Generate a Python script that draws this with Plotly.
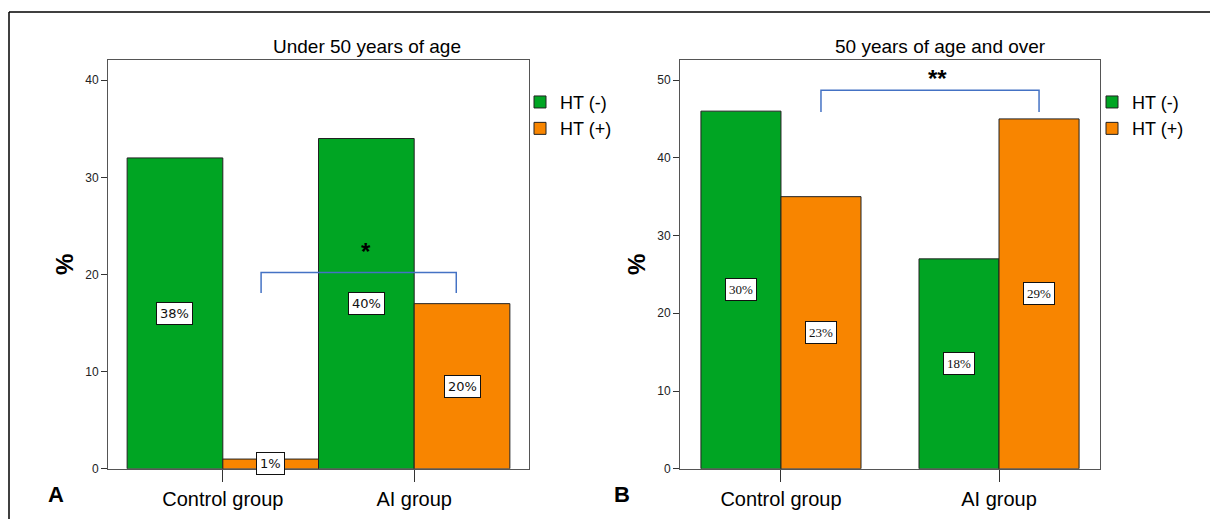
import plotly.graph_objects as go

# The page puts the figure 8px in from the top-left corner of the window,
# so the figure is 8px smaller and all pixel positions are shifted by 8.
OFF = 8
W, H = 1218 - OFF, 526 - OFF
VSCALE = 0.989  # measured vertical compression of the rendered page

categories = ["Control group", "AI group"]
series_names = ["HT (-)", "HT (+)"]

# Panel A: Under 50 years of age
a_ht_neg = [32, 34]
a_ht_pos = [1, 17]
a_lbl_neg = ["38%", "40%"]
a_lbl_pos = ["1%", "20%"]
a_yticks = [0, 10, 20, 30, 40]

# Panel B: 50 years of age and over
b_ht_neg = [46, 27]
b_ht_pos = [35, 45]
b_lbl_neg = ["30%", "18%"]
b_lbl_pos = ["23%", "29%"]
b_yticks = [0, 10, 20, 30, 40, 50]

# significance brackets: (x_start, x_end, y_top, y_drop, text, text_x, text_y)
a_bracket = (0.2, 1.22, 20.2, 18.1, "*", 0.75, 22.4)
b_bracket = (0.1835, 1.1835, 48.7, 45.9, "**", 0.72, 50.2)

GREEN = "#00A523"
ORANGE = "#F88500"
FONT = "Liberation Sans, Arial, sans-serif"


def px_x(p):
    return (p - OFF) / W


def px_y(p):
    p = 12 + (p - 12) / VSCALE
    return 1 - (p - OFF) / H


fig = go.Figure()

panels = [
    dict(xa="x", ya="y", neg=a_ht_neg, pos=a_ht_pos, lneg=a_lbl_neg, lpos=a_lbl_pos,
         w=0.5, legend="legend", br=a_bracket, lfont="DejaVu Sans, sans-serif", lsize=13),
    dict(xa="x2", ya="y2", neg=b_ht_neg, pos=b_ht_pos, lneg=b_lbl_neg, lpos=b_lbl_pos,
         w=0.367, legend="legend2", br=b_bracket, lfont="Liberation Serif, serif", lsize=13),
]

xs = list(range(len(categories)))
annotations = []
shapes = []
for p in panels:
    w = p["w"]
    for vals, name, color, off in [(p["neg"], series_names[0], GREEN, -w),
                                   (p["pos"], series_names[1], ORANGE, 0.0)]:
        fig.add_trace(go.Bar(
            x=xs, y=vals, name=name, width=w, offset=off,
            marker=dict(color=color, line=dict(color="#222222", width=1)),
            xaxis=p["xa"], yaxis=p["ya"], legend=p["legend"],
            hoverinfo="y+name",
        ))
    for vals, labels, off in [(p["neg"], p["lneg"], -w / 2), (p["pos"], p["lpos"], w / 2)]:
        for xi, v, t in zip(xs, vals, labels):
            annotations.append(dict(
                x=xi + off, y=v / 2, xref=p["xa"], yref=p["ya"], text=t,
                showarrow=False, bgcolor="white", bordercolor="#111111",
                borderwidth=1, borderpad=3,
                font=dict(family=p["lfont"], size=p["lsize"], color="#111111"),
            ))
    x0, x1, yt, yd, st, sx, sy = p["br"]
    shapes.append(dict(
        type="path", xref=p["xa"], yref=p["ya"],
        path=f"M {x0},{yd} L {x0},{yt} L {x1},{yt} L {x1},{yd}",
        line=dict(color="#4472C4", width=1.5),
    ))
    annotations.append(dict(
        x=sx, y=sy, xref=p["xa"], yref=p["ya"], text=f"<b>{st}</b>",
        showarrow=False, font=dict(family=FONT, size=24, color="black"),
    ))

# titles
annotations.append(dict(x=px_x(367), y=px_y(47), xref="paper", yref="paper",
                        xanchor="center", yanchor="middle",
                        text="Under 50 years of age", showarrow=False,
                        font=dict(family=FONT, size=19, color="black")))
annotations.append(dict(x=px_x(940), y=px_y(47), xref="paper", yref="paper",
                        xanchor="center", yanchor="middle",
                        text="50 years of age and over", showarrow=False,
                        font=dict(family=FONT, size=19, color="black")))
# panel letters
annotations.append(dict(x=px_x(56), y=px_y(496), xref="paper", yref="paper",
                        xanchor="center", yanchor="middle",
                        text="<b>A</b>", showarrow=False,
                        font=dict(family=FONT, size=22, color="black")))
annotations.append(dict(x=px_x(622), y=px_y(496), xref="paper", yref="paper",
                        xanchor="center", yanchor="middle",
                        text="<b>B</b>", showarrow=False,
                        font=dict(family=FONT, size=22, color="black")))

# outer border (left and top edges visible)
shapes.append(dict(type="line", xref="paper", yref="paper",
                   x0=px_x(9), x1=px_x(9), y0=0, y1=px_y(12),
                   line=dict(color="black", width=1.5)))
shapes.append(dict(type="line", xref="paper", yref="paper",
                   x0=px_x(9), x1=1, y0=px_y(12), y1=px_y(12),
                   line=dict(color="black", width=1.5)))

ydom = [px_y(470), px_y(60)]
common_x = dict(tickmode="array", tickvals=xs, ticktext=categories,
                ticks="outside", ticklen=12, tickcolor="#333333",
                showline=True, mirror=True, linecolor="#555555", linewidth=1,
                showgrid=False, zeroline=False,
                tickfont=dict(family=FONT, size=20, color="black"))
common_y = dict(ticks="outside", ticklen=6, tickcolor="#333333",
                showline=True, mirror=True, linecolor="#555555", linewidth=1,
                showgrid=False, zeroline=False,
                tickfont=dict(family=FONT, size=12, color="#222222"),
                title=dict(text="<b>%</b>", font=dict(family=FONT, size=24, color="black"),
                           standoff=4))

legend_common = dict(font=dict(family=FONT, size=18, color="black"),
                     bgcolor="rgba(0,0,0,0)", xanchor="left", yanchor="top",
                     itemclick=False, itemdoubleclick=False, tracegroupgap=0)

fig.update_layout(
    width=W, height=H,
    margin=dict(l=0, r=0, t=0, b=0),
    paper_bgcolor="white", plot_bgcolor="white",
    barmode="overlay",
    showlegend=True,
    xaxis=dict(domain=[px_x(108), px_x(529)], range=[-0.6, 1.6], anchor="y", **common_x),
    yaxis=dict(domain=ydom, range=[0, 42.1], tickvals=a_yticks, anchor="x", **common_y),
    xaxis2=dict(domain=[px_x(680), px_x(1100)], range=[-0.463, 1.463], anchor="y2", **common_x),
    yaxis2=dict(domain=ydom, range=[0, 52.6], tickvals=b_yticks, anchor="x2", **common_y),
    legend=dict(x=px_x(520), y=px_y(84), **legend_common),
    legend2=dict(x=px_x(1092), y=px_y(84), **legend_common),
    annotations=annotations,
    shapes=shapes,
)

fig.write_html("out.html")
